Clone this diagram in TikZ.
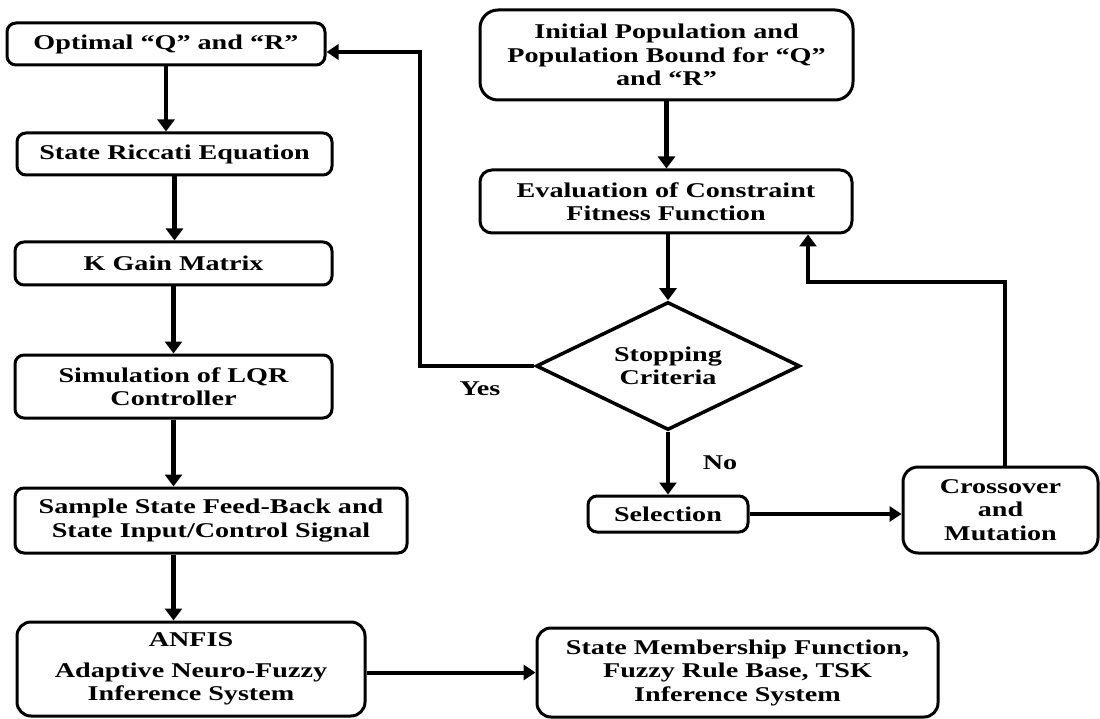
\documentclass[tikz,border=0pt]{standalone}
\usepackage{fontspec}
\setmainfont{Liberation Serif}[FakeStretch=1.34]
\usetikzlibrary{arrows.meta,shapes.geometric}
\begin{document}
\begin{tikzpicture}[x=1pt,y=-1pt,
  txt/.style={font=\fontsize{21}{23.5}\selectfont\bfseries},
  box/.style={txt, draw, line width=3pt, rounded corners=9pt, align=center, inner sep=0pt},
  arr/.style={line width=4.5pt, -{Triangle[width=17pt,length=12pt]}},
  harr/.style={line width=4pt, -{Triangle[width=15pt,length=12pt]}}]
\useasboundingbox (0,0) rectangle (1100,719);
% left column
\node[box, minimum width=318pt, minimum height=42pt] (opt) at (166,44) {Optimal “Q” and “R”};
\node[box, minimum width=315pt, minimum height=42pt] (ric) at (174.5,154) {State Riccati Equation};
\node[box, minimum width=317pt, minimum height=43pt] (kg) at (173.5,263.5) {K Gain Matrix};
\node[box, minimum width=317pt, minimum height=63pt] (sim) at (173.5,386.5) {Simulation of LQR\\Controller};
\node[box, minimum width=392pt, minimum height=65pt] (samp) at (211,520.5) {Sample State Feed-Back and\\State Input/Control Signal};
\node[box, minimum width=348pt, minimum height=94pt, rounded corners=14pt] (anfis) at (191,669) {ANFIS\\[7pt]Adaptive Neuro-Fuzzy\\Inference System};
\node[box, minimum width=401pt, minimum height=89pt, rounded corners=14pt] (sm) at (737.5,672.5) {State Membership Function,\\Fuzzy Rule Base, TSK\\Inference System};
% right column
\node[box, minimum width=373pt, minimum height=90pt, rounded corners=18pt] (init) at (666.5,55) {Initial Population and\\Population Bound for “Q”\\and “R”};
\node[box, minimum width=372pt, minimum height=63pt, rounded corners=12pt] (ev) at (666,201.5) {Evaluation of Constraint\\Fitness Function};
\node[txt, draw, diamond, aspect=2, line width=3.5pt, minimum width=264pt, minimum height=128pt, inner sep=0pt, align=center] (dia) at (668,366) {Stopping\\Criteria};
\node[box, minimum width=160pt, minimum height=36pt] (sel) at (668,514) {Selection};
\node[box, minimum width=195pt, minimum height=86pt, rounded corners=15pt] (cm) at (1000.5,510) {Crossover\\and\\Mutation};
% labels
\node[txt] (yes) at (480,389) {Yes};
\node[txt] (no) at (720,463) {No};
% helper coordinates
\coordinate (loopc) at (420,366);
\coordinate (fbc) at (808,282);
% connectors
\draw[arr] (opt.south) -- (opt.south |- ric.north);
\draw[arr] (ric.south) -- (ric.south |- kg.north);
\draw[arr] (kg.south) -- (kg.south |- sim.north);
\draw[arr] (sim.south) -- (sim.south |- samp.north);
\draw[arr] (samp.south -| sim.south) -- (anfis.north -| sim.south);
\draw[harr] (anfis.east |- sm.west) -- (sm.west);
\draw[arr] (init.south) -- (init.south |- ev.north);
\draw[arr] (ev.south -| dia.north) -- (dia.north);
\draw[arr] (dia.south) -- (sel.north);
\draw[harr] (dia.west) -- (loopc) |- ([yshift=-8pt]opt.east);
\draw[harr] (sel.east) -- (sel.east -| cm.west);
\draw[arr] ([xshift=4.5pt]cm.north) |- (fbc) -- (fbc |- ev.south);
\end{tikzpicture}
\end{document}
